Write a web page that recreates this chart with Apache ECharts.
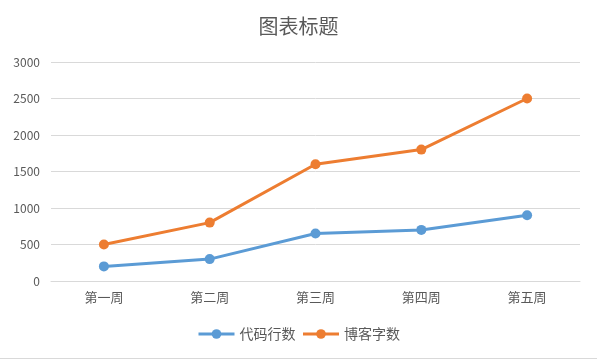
<!DOCTYPE html>
<html><head><meta charset="utf-8">
<script src="https://cdn.jsdelivr.net/npm/echarts@6/dist/echarts.min.js"></script>
<style>html,body{margin:0;padding:0;background:#fff}#c{width:597px;height:360px;}
#b{position:absolute;left:0;top:358px;width:597px;height:1px;background:#d9d9d9}</style>
</head><body><div id="c"></div><div id="b"></div>
<script>
const categories = ['第一周','第二周','第三周','第四周','第五周'];
const codeLines = [200, 300, 650, 700, 900];
const blogWords = [500, 800, 1600, 1800, 2500];
const yTicks = [0, 500, 1000, 1500, 2000, 2500, 3000];
const font = '"Noto Sans CJK SC", sans-serif';
const chart = echarts.init(document.getElementById('c'));
chart.setOption({
  animation: false,
  title: { text: '图表标题', left: 'center', top: 11, textStyle: { fontFamily: font, fontSize: 20, fontWeight: 'normal', color: '#595959' } },
  legend: { bottom: 14, left: 'center', itemWidth: 36, itemHeight: 12, itemGap: 6,
    lineStyle: { width: 3 },
    textStyle: { fontFamily: font, fontSize: 14, color: '#595959' },
    data: ['代码行数','博客字数'] },
  grid: { left: 51, right: 17, top: 62, bottom: 79 },
  xAxis: { type: 'category', data: categories, boundaryGap: true,
    axisLine: { lineStyle: { color: '#d9d9d9' } }, axisTick: { show: false },
    axisLabel: { fontFamily: font, fontSize: 13, color: '#595959', margin: 10 } },
  yAxis: { type: 'value', min: yTicks[0], max: yTicks[yTicks.length-1], interval: 500,
    axisLine: { show: false }, axisTick: { show: false },
    splitLine: { lineStyle: { color: '#d9d9d9' } },
    axisLabel: { fontFamily: font, fontSize: 12, color: '#595959', margin: 11, formatter: v => String(v) } },
  series: [
    { name: '代码行数', type: 'line', data: codeLines, symbol: 'circle', symbolSize: 10,
      lineStyle: { width: 3, color: '#5B9BD5' }, itemStyle: { color: '#5B9BD5' } },
    { name: '博客字数', type: 'line', data: blogWords, symbol: 'circle', symbolSize: 10,
      lineStyle: { width: 3, color: '#ED7D31' }, itemStyle: { color: '#ED7D31' } }
  ]
});
</script></body></html>
